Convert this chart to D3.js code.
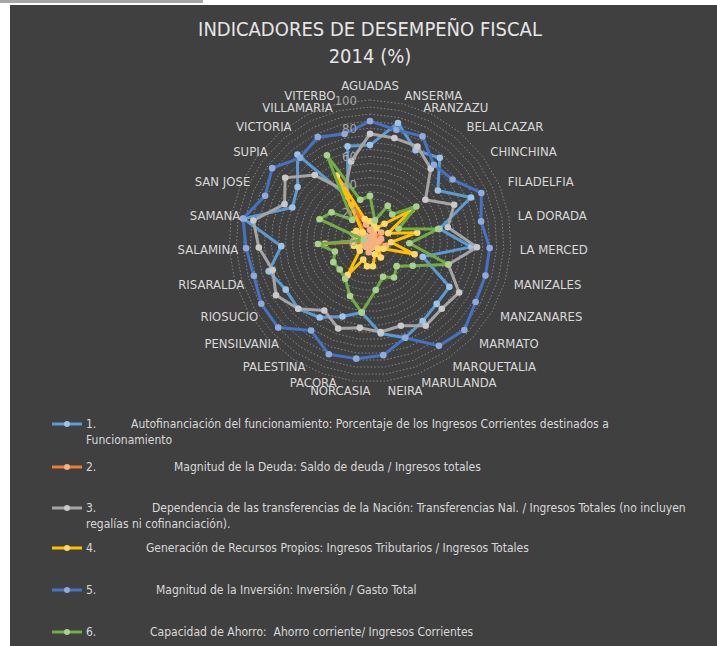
<!DOCTYPE html>
<meta charset="utf-8">
<style>
body { margin: 0; background: #fff; }
text { font-family: 'Liberation Sans Narrow', 'DejaVu Sans Condensed', sans-serif; }
</style>
<body>
<script src="https://d3js.org/d3.v7.min.js"></script>
<script>

var categories = ["AGUADAS", "ANSERMA", "ARANZAZU", "BELALCAZAR", "CHINCHINA", "FILADELFIA",
  "LA DORADA", "LA MERCED", "MANIZALES", "MANZANARES", "MARMATO", "MARQUETALIA", "MARULANDA",
  "NEIRA", "NORCASIA", "PACORA", "PALESTINA", "PENSILVANIA", "RIOSUCIO", "RISARALDA",
  "SALAMINA", "SAMANA", "SAN JOSE", "SUPIA", "VICTORIA", "VILLAMARIA", "VITERBO"];

// one array per indicator, same order as categories
var autofinanciacion = [68, 86, 72, 77, 60, 78, 50, 72, 39, 65, 65, 68, 73, 66, 51, 57, 65, 70, 69, 75, 63, 91, 60, 64, 80, 35, 69];
var deuda            = [8, 3, 6, 4, 10, 3, 8, 6, 12, 4, 7, 2, 5, 3, 8, 2, 5, 3, 6, 2, 32, 4, 7, 9, 5, 29, 12];
var transferencias   = [76, 75, 75, 67, 49, 65, 56, 76, 58, 73, 70, 72, 64, 65, 62, 66, 59, 70, 77, 72, 79, 84, 66, 75, 61, 40, 58];
var recursosPropios  = [14, 12, 10, 16, 37, 14, 34, 15, 33, 11, 8, 14, 10, 18, 18, 14, 29, 10, 9, 12, 12, 10, 13, 12, 8, 52, 16];
var inversion        = [85, 81, 83, 70.5, 73, 86, 80, 85, 85.5, 86.5, 92, 89, 73, 81.5, 84, 85.5, 76, 89.5, 89, 86, 88, 91.5, 81, 86.5, 77, 82.5, 78];
var ahorro           = [32, 15, 28, 24.5, 41, 22, 49, 28, 58, 35, 26, 31, 27, 35, 51, 41.5, 32, 29.5, 30, 26, 37, 4.5, 39, 34, 19.5, 68, 30];

var tickValues = [0, 20, 40, 60, 80, 100];
var gridValues = d3.range(5, 101, 5);

var legendNumbers = ["1.", "2.", "3.", "4.", "5.", "6."];
var legendLabels = [
  "Autofinanciación del funcionamiento: Porcentaje de los Ingresos Corrientes destinados a",
  "Magnitud de la Deuda: Saldo de deuda / Ingresos totales",
  "Dependencia de las transferencias de la Nación: Transferencias Nal. / Ingresos Totales (no incluyen",
  "Generación de Recursos Propios: Ingresos Tributarios / Ingresos Totales",
  "Magnitud de la Inversión: Inversión / Gasto Total",
  "Capacidad de Ahorro:  Ahorro corriente/ Ingresos Corrientes"
];
var legendWraps = ["Funcionamiento", "", "regalías ni cofinanciación).", "", "", ""];

var series = [
  {values: autofinanciacion, line: "#5b9bd5", dot: "#9dc3e6"},
  {values: deuda,            line: "#ed7d31", dot: "#f4b183"},
  {values: transferencias,   line: "#a5a5a5", dot: "#c9c9c9"},
  {values: recursosPropios,  line: "#ffc000", dot: "#ffd966"},
  {values: inversion,        line: "#4472c4", dot: "#8faadc"},
  {values: ahorro,           line: "#70ad47", dot: "#a9d18e"}
];

var width = 717,
    height = 646,
    cx = 370,
    cy = 241,
    radius = 141;

var svg = d3.select("body").append("svg")
    .attr("width", width)
    .attr("height", height);

svg.append("rect")
    .attr("x", 10).attr("y", 5)
    .attr("width", width - 10).attr("height", height - 5)
    .attr("fill", "#404040");
svg.append("rect")
    .attr("x", 0).attr("y", 0)
    .attr("width", 203).attr("height", 3)
    .attr("fill", "#a6a6a6");

var angle = d3.scaleLinear()
    .domain([0, categories.length])
    .range([0, 2 * Math.PI]);

var r = d3.scaleLinear()
    .domain([0, 100])
    .range([0, radius]);

var g = svg.append("g")
    .attr("transform", "translate(" + cx + "," + cy + ")");

// dotted rings
var ring = d3.lineRadial()
    .angle(function(d, i) { return angle(i); })
    .curve(d3.curveLinearClosed);

g.selectAll(".grid")
    .data(gridValues)
  .enter().append("path")
    .attr("class", "grid")
    .attr("d", function(v) { return ring.radius(r(v))(categories); })
    .attr("fill", "none")
    .attr("stroke", "#bfbfbf")
    .attr("stroke-opacity", 0.7)
    .attr("stroke-width", 0.8)
    .attr("stroke-dasharray", "1.5,2");

// series
var line = d3.lineRadial()
    .angle(function(d, i) { return angle(i); })
    .radius(function(d) { return r(d); })
    .curve(d3.curveLinearClosed);

series.forEach(function(s) {
  var sg = g.append("g");
  sg.append("path")
      .attr("d", line(s.values))
      .attr("fill", "none")
      .attr("stroke", s.line)
      .attr("stroke-width", 3)
      .attr("stroke-linejoin", "round");
  sg.selectAll("circle")
      .data(s.values)
    .enter().append("circle")
      .attr("cx", function(d, i) { return r(d) * Math.sin(angle(i)); })
      .attr("cy", function(d, i) { return -r(d) * Math.cos(angle(i)); })
      .attr("r", 3.3)
      .attr("fill", s.dot);
});

// value axis labels
g.selectAll(".tick")
    .data(tickValues)
  .enter().append("text")
    .attr("class", "tick")
    .attr("x", -13)
    .attr("y", function(d) { return -r(d); })
    .attr("dy", "0.35em")
    .attr("text-anchor", "end")
    .attr("font-size", 13)
    .attr("fill", "#a6a6a6")
    .text(function(d) { return d; });

// category labels (excel nudges the ones near the top toward the axis)
function labelShift(i) {
  var s = Math.sin(angle(i)), c = Math.cos(angle(i)), top = c > 0.85 && c < 0.95;
  if (s > 0.05) return top ? -14 : 0;
  if (s < -0.05) return c > 0.95 ? 0 : (top ? 30 : 18);
  return 0;
}

g.selectAll(".cat")
    .data(categories)
  .enter().append("text")
    .attr("class", "cat")
    .attr("x", function(d, i) { return 150 * Math.sin(angle(i)) + labelShift(i); })
    .attr("y", function(d, i) { return -150 * Math.cos(angle(i)) - (i === 0 ? 6 : 0); })
    .attr("dy", "0.35em")
    .attr("text-anchor", function(d, i) {
      var s = Math.sin(angle(i));
      return Math.abs(s) < 0.05 ? "middle" : (s > 0 ? "start" : "end");
    })
    .attr("font-size", 13)
    .attr("fill", "#d9d9d9")
    .text(function(d) { return d; });

// title
svg.append("text")
    .attr("x", cx).attr("y", 36)
    .attr("text-anchor", "middle")
    .attr("font-size", 20)
    .attr("fill", "#e7e6e6")
    .text("INDICADORES DE DESEMPEÑO FISCAL");
svg.append("text")
    .attr("x", cx).attr("y", 63)
    .attr("text-anchor", "middle")
    .attr("font-size", 20)
    .attr("fill", "#e7e6e6")
    .text("2014 (%)");

// legend
var legendY = [424, 467, 508, 548, 590, 632],
    legendTextX = [131, 174, 152, 146, 156, 150];

var legend = svg.selectAll(".legend")
    .data(series)
  .enter().append("g")
    .attr("class", "legend")
    .attr("transform", function(d, i) { return "translate(0," + legendY[i] + ")"; });

legend.append("line")
    .attr("x1", 52).attr("x2", 82)
    .attr("stroke", function(d) { return d.line; })
    .attr("stroke-width", 3);
legend.append("circle")
    .attr("cx", 67).attr("r", 3)
    .attr("fill", function(d) { return d.dot; });

legend.append("text")
    .attr("x", 86).attr("dy", "0.35em")
    .attr("font-size", 12)
    .attr("fill", "#d9d9d9")
    .text(function(d, i) { return legendNumbers[i]; });
legend.append("text")
    .attr("x", function(d, i) { return legendTextX[i]; })
    .attr("dy", "0.35em")
    .attr("font-size", 12)
    .attr("fill", "#d9d9d9")
    .style("white-space", "pre")
    .text(function(d, i) { return legendLabels[i]; });
legend.append("text")
    .attr("x", 86).attr("y", 16).attr("dy", "0.35em")
    .attr("font-size", 12)
    .attr("fill", "#d9d9d9")
    .text(function(d, i) { return legendWraps[i]; });

</script>
